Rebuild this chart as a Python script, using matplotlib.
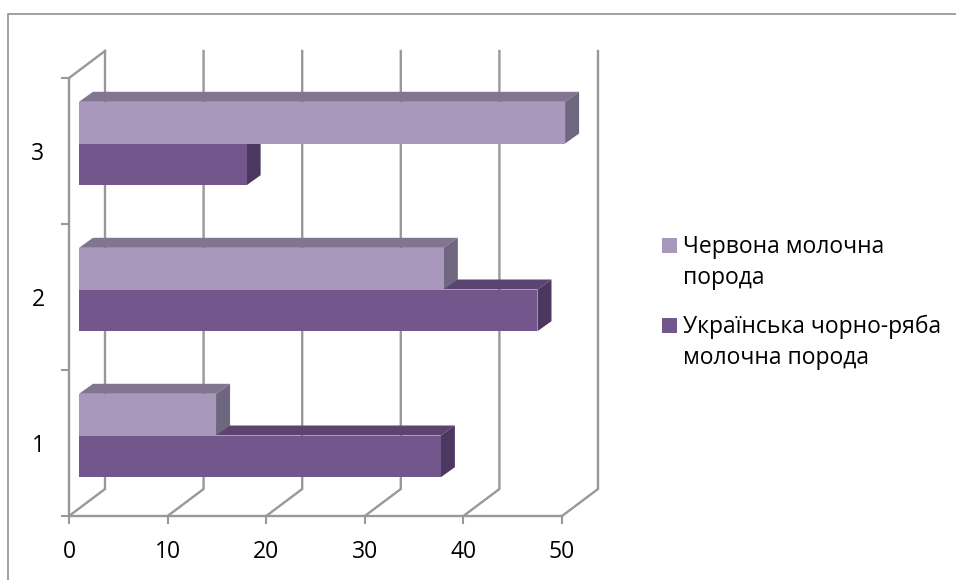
import matplotlib
matplotlib.use("Agg")
import matplotlib.pyplot as plt
from matplotlib.patches import Polygon, Rectangle
from matplotlib.transforms import Affine2D

W, H = 956, 580

categories = [1, 2, 3]
x_ticks = [0, 10, 20, 30, 40, 50]
red_dairy = [13.9, 37.0, 49.3]
black_white = [36.7, 46.5, 17.0]
red_label = "Червона молочна\nпорода"
black_label = "Українська чорно-ряба\nмолочна порода"

GRID = "#989898"
RED_COLORS = ("#a898bc", "#82758f", "#6f667f")
BLACK_COLORS = ("#72568c", "#5b4570", "#4a3860")

plt.rcParams["font.family"] = ["Open Sans", "DejaVu Sans"]

fig = plt.figure(figsize=(W / 100, H / 100), dpi=100)

# axes box runs from the front floor corner up the left wall, in pixels
x0, x1, y_bot, y_top = 69, 562, 516, 78
ax = fig.add_axes([x0 / W, 1 - y_bot / H, (x1 - x0) / W, (y_bot - y_top) / H])
ax.set_xlim(0, 50)
ax.set_ylim(0.5, 3.5)
ax.patch.set_visible(False)
for s in ax.spines.values():
    s.set_visible(False)

px_x = (x1 - x0) / 50
px_y = (y_bot - y_top) / 3

# pseudo 3d: floor depth and bar depth, in pixels
wall_dx, wall_dy = 36, 27
bar_dx, bar_dy = 14, 10
off_dx, off_dy = 10, 7.5
bar_h = 41.7 / px_y


def shifted(dx, dy):
    return ax.transData + Affine2D().translate(dx, dy)


# back wall verticals and floor diagonals
for t in x_ticks:
    ax.plot([t, t + wall_dx / px_x, t + wall_dx / px_x],
            [0.5, 0.5 + wall_dy / px_y, 3.5 + wall_dy / px_y],
            color=GRID, lw=1.7, clip_on=False, zorder=1, solid_joinstyle="miter")

# left wall with its top edge, floor front edge
ax.plot([wall_dx / px_x, 0, 0, 50], [3.5 + wall_dy / px_y, 3.5, 0.5, 0.5],
        color=GRID, lw=1.7, clip_on=False, zorder=1, solid_joinstyle="miter")

ax.set_xticks(x_ticks)
ax.set_yticks([0.5, 1.5, 2.5, 3.5])
ax.set_yticklabels([])
ax.tick_params(axis="both", length=5.8, width=1.5, color=GRID, labelsize=16.5, labelcolor="#000000")
ax.tick_params(axis="x", pad=11.5)

for c in categories:
    ax.annotate(str(c), (0, c), xytext=(-31, -3), xycoords="data", textcoords="offset pixels",
                ha="center", va="center", fontsize=16.5, color="#000000", annotation_clip=False)


def draw_bar(v, y_mid, colors, z):
    face, top, side = colors
    ddx = bar_dx / px_x
    ddy = bar_dy / px_y
    tr = shifted(off_dx, off_dy)
    ax.add_patch(Polygon([(0, y_mid + bar_h), (ddx, y_mid + bar_h + ddy), (v + ddx, y_mid + bar_h + ddy), (v, y_mid + bar_h)],
                         facecolor=top, edgecolor="none", transform=tr, zorder=z, clip_on=False))
    ax.add_patch(Polygon([(v, y_mid), (v + ddx, y_mid + ddy), (v + ddx, y_mid + bar_h + ddy), (v, y_mid + bar_h)],
                         facecolor=side, edgecolor="none", transform=tr, zorder=z, clip_on=False))
    ax.barh(y_mid + bar_h / 2, v, height=bar_h, color=face, transform=tr, zorder=z, clip_on=False)


# dark bar goes first in each group, the light one sits in front of it
for i, c in enumerate(categories):
    draw_bar(black_white[i], c - bar_h, BLACK_COLORS, 2 + i * 2)
    draw_bar(red_dairy[i], c, RED_COLORS, 3 + i * 2)

# outer chart frame (left and top edges only), legend, drawn in figure pixels
fig_tr = Affine2D().scale(1 / W, -1 / H).translate(0, 1) + fig.transFigure
fig.add_artist(plt.Line2D([8.5, 8.5, 956], [580, 14, 14], color=GRID, lw=1.3, transform=fig_tr))
fig.add_artist(Rectangle((662, 238), 15, 15, facecolor=RED_COLORS[0], edgecolor="none", transform=fig_tr))
fig.add_artist(Rectangle((662, 318), 15, 15, facecolor=BLACK_COLORS[0], edgecolor="none", transform=fig_tr))
fig.text(683 / W, 1 - 235 / H, red_label, ha="left", va="top", fontsize=16.5, linespacing=1.38, color="#000000")
fig.text(683 / W, 1 - 315 / H, black_label, ha="left", va="top", fontsize=16.5, linespacing=1.38, color="#000000")

fig.savefig("out.png", dpi=100)
